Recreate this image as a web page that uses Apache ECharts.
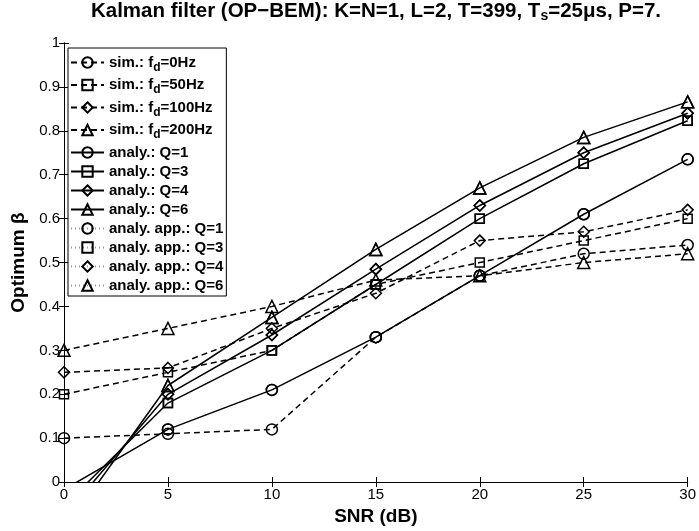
<!DOCTYPE html>
<html>
<head>
<meta charset="utf-8">
<script src="https://cdn.jsdelivr.net/npm/echarts@6/dist/echarts.min.js"></script>
<style>html,body{margin:0;padding:0;background:#fff}#c{width:699px;height:531px}</style>
</head>
<body>
<div id="c"></div>
<script>
var snr = [0, 5, 10, 15, 20, 25, 30];
var xTicks = [0, 5, 10, 15, 20, 25, 30];
var yTicks = ['0','0.1','0.2','0.3','0.4','0.5','0.6','0.7','0.8','0.9','1'];

var sim0   = [0.10, 0.11, 0.12, 0.33, 0.47, 0.52, 0.54];
var sim50  = [0.20, 0.25, 0.30, 0.45, 0.50, 0.55, 0.60];
var sim100 = [0.25, 0.26, 0.35, 0.43, 0.55, 0.57, 0.62];
var sim200 = [0.30, 0.35, 0.40, 0.46, 0.47, 0.50, 0.52];

var anQ1 = [-0.017, 0.12, 0.21, 0.33, 0.47, 0.61, 0.735];
var anQ3 = [-0.054, 0.18, 0.30, 0.45, 0.60, 0.725, 0.823];
var anQ4 = [-0.078, 0.20, 0.335, 0.485, 0.63, 0.75, 0.84];
var anQ6 = [-0.11, 0.22, 0.375, 0.53, 0.67, 0.785, 0.866];

var appQ1 = [-0.017, 0.12, 0.21, 0.33, 0.47, 0.61, 0.735];
var appQ3 = [-0.054, 0.18, 0.30, 0.45, 0.60, 0.725, 0.823];
var appQ4 = [-0.078, 0.20, 0.335, 0.485, 0.63, 0.75, 0.84];
var appQ6 = [-0.11, 0.22, 0.375, 0.53, 0.67, 0.785, 0.866];

var FONT = 'Liberation Sans, Arial, Helvetica, sans-serif';

function pairs(arr) { return snr.map(function (x, i) { return [x, arr[i]]; }); }

function mk(name, arr, sym, kind) {
  var ls, z;
  if (kind === 'sim') { ls = { color: '#000', width: 1.5, type: [6, 4] }; z = 3; }
  else if (kind === 'an') { ls = { color: '#000', width: 1.5, type: 'solid' }; z = 4; }
  else { ls = { color: '#999', width: 1, type: [1, 3] }; z = 2; }
  return {
    name: name, type: 'line', data: pairs(arr), clip: true, z: z,
    symbol: sym, symbolSize: sym === 'rect' ? 9 : (sym === 'triangle' ? 12 : 11),
    showAllSymbol: true, animation: false,
    lineStyle: ls,
    itemStyle: { color: 'rgba(255,255,255,0)', borderColor: '#000', borderWidth: 1.5 },
    emphasis: { disabled: true }
  };
}

var series = [
  mk('app1', appQ1, 'circle', 'app'),
  mk('app3', appQ3, 'rect', 'app'),
  mk('app4', appQ4, 'diamond', 'app'),
  mk('app6', appQ6, 'triangle', 'app'),
  mk('sim0', sim0, 'circle', 'sim'),
  mk('sim50', sim50, 'rect', 'sim'),
  mk('sim100', sim100, 'diamond', 'sim'),
  mk('sim200', sim200, 'triangle', 'sim'),
  mk('an1', anQ1, 'circle', 'an'),
  mk('an3', anQ3, 'rect', 'an'),
  mk('an4', anQ4, 'diamond', 'an'),
  mk('an6', anQ6, 'triangle', 'an')
];

var labels = {
  sim0: '{b|sim.: f}{s|d}{b|=0Hz}',
  sim50: '{b|sim.: f}{s|d}{b|=50Hz}',
  sim100: '{b|sim.: f}{s|d}{b|=100Hz}',
  sim200: '{b|sim.: f}{s|d}{b|=200Hz}',
  an1: '{b|analy.: Q=1}', an3: '{b|analy.: Q=3}', an4: '{b|analy.: Q=4}', an6: '{b|analy.: Q=6}',
  app1: '{b|analy. app.: Q=1}', app3: '{b|analy. app.: Q=3}', app4: '{b|analy. app.: Q=4}', app6: '{b|analy. app.: Q=6}'
};

function axisCommon() {
  return {
    type: 'value',
    axisLine: { show: true, lineStyle: { color: '#000', width: 1 } },
    axisTick: { show: true, inside: true, length: 5, lineStyle: { color: '#000', width: 1 } },
    splitLine: { show: false },
    axisLabel: { color: '#000', fontSize: 15, fontFamily: FONT }
  };
}

var x0 = Object.assign(axisCommon(), {
  min: 0, max: 30, interval: 5, position: 'bottom',
  name: 'SNR (dB)', nameLocation: 'middle', nameGap: 24,
  nameTextStyle: { color: '#000', fontSize: 19, fontWeight: 'bold', fontFamily: FONT }
});
x0.axisLabel.margin = 5;
x0.axisLabel.formatter = function (v) { var i = snr.indexOf(v); return i >= 0 ? String(xTicks[i]) : ''; };
var x1 = Object.assign(axisCommon(), { min: 0, max: 30, interval: 5, position: 'top' });
x1.axisLabel = { show: false };

var y0 = Object.assign(axisCommon(), {
  min: 0, max: 1, interval: 0.1, position: 'left',
  name: 'Optimum β', nameLocation: 'middle', nameGap: 32,
  nameTextStyle: { color: '#000', fontSize: 19, fontWeight: 'bold', fontFamily: FONT }
});
y0.axisLabel.margin = 4;
y0.axisLabel.formatter = function (v) { return yTicks[Math.round(v * 10)]; };
var y1 = Object.assign(axisCommon(), { min: 0, max: 1, interval: 0.1, position: 'right' });
y1.axisLabel = { show: false };

var option = {
  backgroundColor: '#fff',
  animation: false,
  title: {
    text: '{t|Kalman filter (OP−BEM): K=N=1, L=2, T=399, T}{s|s}{t|=25μs, P=7.}',
    left: 376, top: -1, textAlign: 'center', padding: 0,
    textStyle: {
      rich: {
        t: { fontSize: 20.5, fontWeight: 'bold', color: '#000', fontFamily: FONT },
        s: { fontSize: 14, fontWeight: 'bold', color: '#000', fontFamily: FONT, padding: [10, 0, 0, 0] }
      }
    }
  },
  grid: { left: 64, right: 11, top: 43, bottom: 47, containLabel: false },
  xAxis: [x0, x1],
  yAxis: [y0, y1],
  legend: {
    orient: 'vertical', left: 68, top: 48,
    data: ['sim0','sim50','sim100','sim200','an1','an3','an4','an6','app1','app3','app4','app6'],
    backgroundColor: '#fff', borderColor: '#000', borderWidth: 1,
    padding: [7, 3, 3, 2], itemGap: 4, itemWidth: 33, itemHeight: 13,
    selectedMode: false,
    formatter: function (n) { return labels[n]; },
    textStyle: {
      rich: {
        b: { fontSize: 15, fontWeight: 'bold', color: '#000', fontFamily: FONT, lineHeight: 15 },
        s: { fontSize: 12, fontWeight: 'bold', color: '#000', fontFamily: FONT, padding: [10, 0, 0, 0] }
      }
    }
  },
  series: series
};

var chart = echarts.init(document.getElementById('c'), null, { renderer: 'canvas' });
chart.setOption(option);
</script>
</body>
</html>
